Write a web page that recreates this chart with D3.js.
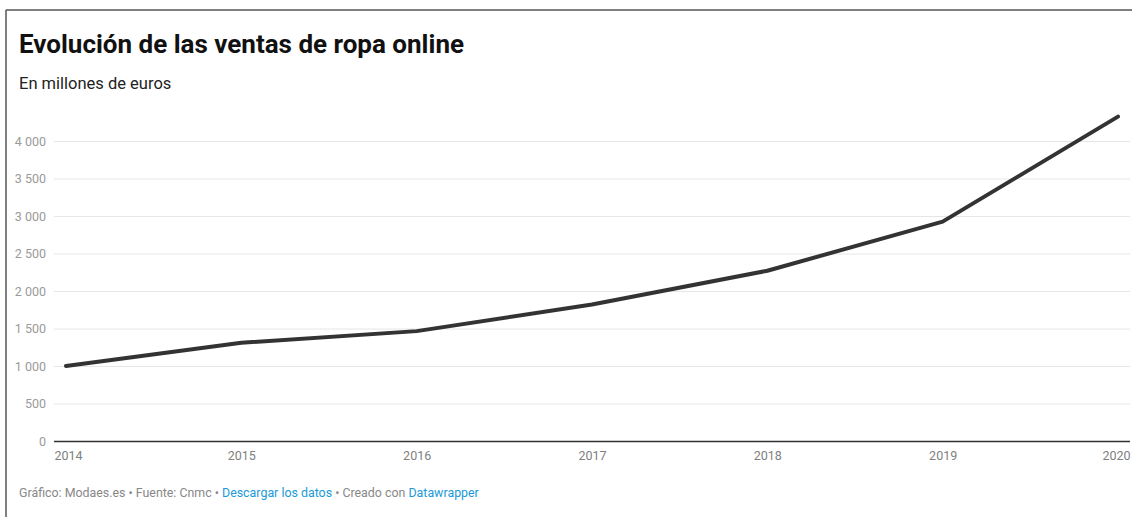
<!DOCTYPE html>
<html>
<head>
<meta charset="utf-8">
<script src="https://cdn.jsdelivr.net/npm/d3@7"></script>
<style>
  html, body { margin: 0; padding: 0; background: #fff; }
  body { width: 1132px; height: 517px; overflow: hidden; }
  svg { display: block; font-family: Roboto, "Noto Sans", sans-serif; }
</style>
</head>
<body>
<svg id="chart" width="1132" height="517"></svg>
<script>
// Online clothing sales, millions of euros
const years = [2014, 2015, 2016, 2017, 2018, 2019, 2020];
const sales = [1000, 1310, 1465, 1820, 2270, 2925, 4325];
const yTicks = [0, 500, 1000, 1500, 2000, 2500, 3000, 3500, 4000];

const title = "Evolución de las ventas de ropa online";
const subtitle = "En millones de euros";

const svg = d3.select("#chart");
const W = 1132, H = 517;

// frame lines (top and left)
svg.append("line").attr("x1", 6).attr("x2", W).attr("y1", 10).attr("y2", 10)
  .attr("stroke", "#555").attr("stroke-width", 1.5);
svg.append("line").attr("x1", 6).attr("x2", 6).attr("y1", 10).attr("y2", H)
  .attr("stroke", "#555").attr("stroke-width", 1.5);

svg.append("text").attr("x", 19).attr("y", 53)
  .attr("font-size", 26).attr("font-weight", 700).attr("fill", "#111")
  .text(title);
svg.append("text").attr("x", 19).attr("y", 89)
  .attr("font-size", 16.5).attr("fill", "#222")
  .text(subtitle);

const gridLeft = 54, gridRight = 1130;
const x = d3.scaleLinear().domain([years[0], years[years.length - 1]]).range([66, 1118]);
const y = d3.scaleLinear().domain([0, 4000]).range([441, 141]);

const fmt = v => d3.format(",")(v).replace(/,/g, " ");

// horizontal grid + y labels
const yAxis = d3.axisLeft(y).tickValues(yTicks).tickSize(-(gridRight - gridLeft)).tickFormat(fmt).tickPadding(8);
const gy = svg.append("g").attr("transform", `translate(${gridLeft},0)`).call(yAxis);
gy.select(".domain").remove();
gy.selectAll(".tick line").attr("stroke", d => d === 0 ? "#333" : "#e6e6e6").attr("stroke-width", d => d === 0 ? 1.3 : 1);
gy.selectAll(".tick text").attr("fill", "#9a9a9a").attr("font-size", 12.5)
  .attr("font-family", "Roboto, sans-serif");

// x labels
const xAxis = d3.axisBottom(x).tickValues(years).tickSize(0).tickFormat(d3.format("d")).tickPadding(10);
const gx = svg.append("g").attr("transform", "translate(0,441)").call(xAxis);
gx.select(".domain").remove();
gx.selectAll(".tick text").attr("fill", "#808080").attr("font-size", 12.5)
  .attr("font-family", "Roboto, sans-serif")
  .attr("text-anchor", (d, i) => i === 0 ? "start" : (i === years.length - 1 ? "end" : "middle"))
  .attr("dx", (d, i) => i === 0 ? gridLeft - x(d) : (i === years.length - 1 ? gridRight - x(d) : 0));

// the series line
const line = d3.line().x((d, i) => x(years[i])).y(d => y(d));
svg.append("path").datum(sales)
  .attr("d", line)
  .attr("fill", "none")
  .attr("stroke", "#333")
  .attr("stroke-width", 4)
  .attr("stroke-linejoin", "round")
  .attr("stroke-linecap", "round");

// footer
const foot = svg.append("text").attr("x", 19).attr("y", 497).attr("font-size", 12.4).attr("fill", "#888");
const parts = [
  ["Gráfico: Modaes.es • Fuente: Cnmc • ", "#888"],
  ["Descargar los datos", "#1a9ad6"],
  [" • Creado con ", "#888"],
  ["Datawrapper", "#1a9ad6"]
];
parts.forEach(([t, c]) => foot.append("tspan").attr("fill", c).text(t));
</script>
</body>
</html>
